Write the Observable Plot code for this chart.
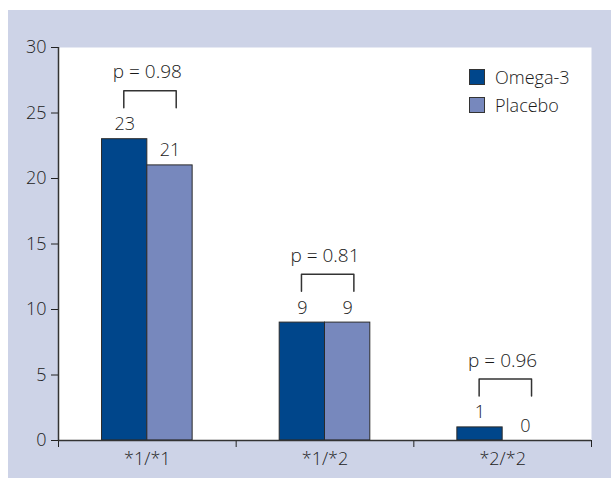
<!DOCTYPE html>
<html><head><meta charset="utf-8">
<script src="https://cdn.jsdelivr.net/npm/d3@7"></script>
<script src="https://cdn.jsdelivr.net/npm/@observablehq/plot@0.6"></script>
<style>
body{margin:0;background:#fff;font-family:"Open Sans",sans-serif;}
#wrap{position:relative;width:611px;height:482px;overflow:hidden;}
#bg{position:absolute;left:8px;top:10px;width:603px;height:468px;background:#cdd3e7;}
#chart{position:absolute;left:0;top:0;}
#chart svg text{font-weight:300;}
#legend{position:absolute;left:469px;top:63px;font-size:18px;color:#1a1a1a;font-weight:300;}
.item{display:flex;align-items:center;height:28px;}
.sw{width:14px;height:14px;border:1px solid #333;margin-right:10px;}
g[aria-label="p-values"] text{letter-spacing:0.8px;}
</style></head>
<body><div id="wrap"><div id="bg"></div><div id="chart"></div><div id="legend"></div></div>
<script>
const genotypes = ["*1/*1", "*1/*2", "*2/*2"];
const groups = ["Omega-3", "Placebo"];
const omega3 = [23, 9, 1];
const placebo = [21, 9, 0];
const pValues = ["p = 0.98", "p = 0.81", "p = 0.96"];
const yTicks = [0, 5, 10, 15, 20, 25, 30];
const colors = ["#00468b", "#7788bd"];

const W = 0.255; // bar width as a fraction of a genotype band
const series = [omega3, placebo];
const rows = [];
genotypes.forEach((g, i) => {
  groups.forEach((grp, k) => {
    const x1 = i + 0.5 - W + k * W;
    rows.push({genotype: g, gi: i, group: grp, k, value: series[k][i], x1, x2: x1 + W, xc: x1 + W / 2});
  });
});
const brackets = [];
const pLabels = [];
genotypes.forEach((g, i) => {
  const m = Math.max(omega3[i], placebo[i]);
  const cL = i + 0.5 - W / 2 - 0.005, cR = i + 0.5 + W / 2 + 0.035;
  const top = m + 3.7, bot = m + 2.4;
  brackets.push({g, x: cL, y: bot}, {g, x: cL, y: top}, {g, x: cR, y: top}, {g, x: cR, y: bot});
  pLabels.push({g, x: i + 0.5, y: m + 5.1, text: pValues[i]});
});

const chart = Plot.plot({
  width: 611,
  height: 482,
  marginLeft: 58,
  marginRight: 20,
  marginTop: 47,
  marginBottom: 42,
  style: {background: "transparent", color: "#222", fontFamily: "'Open Sans', sans-serif", fontSize: "18px"},
  x: {domain: [0, genotypes.length]},
  y: {domain: [0, 30]},
  color: {domain: groups, range: colors},
  marks: [
    Plot.frame({fill: "white", stroke: null}),
    Plot.rectY(rows, {x1: "x1", x2: "x2", y1: 0, y2: "value", fill: "group", stroke: "#2a2a2a", strokeWidth: 1}),
    Plot.text(rows, {x: "xc", y: "value", text: d => String(d.value), lineAnchor: "bottom", dy: -9, fontSize: 18, fill: "#1a1a1a"}),
    Plot.line(brackets, {x: "x", y: "y", z: "g", stroke: "#333", strokeWidth: 1.5}),
    Plot.text(pLabels, {x: "x", y: "y", text: "text", fontSize: 19, fill: "#1a1a1a", ariaLabel: "p-values"}),
    Plot.axisY({ticks: yTicks, tickSize: 7, tickPadding: 5, label: null}),
    Plot.axisX({ticks: d3.range(genotypes.length + 1), tickFormat: () => "", tickSize: 7, label: null}),
    Plot.axisX({ticks: genotypes.map((_, i) => i + 0.5), tickSize: 0, tickPadding: 12, tickFormat: v => genotypes[Math.floor(v)], label: null}),
    Plot.ruleX([0], {stroke: "#333", strokeWidth: 1.5}),
    Plot.ruleY([0], {stroke: "#333", strokeWidth: 1.5})
  ]
});
document.getElementById("chart").appendChild(chart);

const legend = document.getElementById("legend");
groups.forEach((g, k) => {
  const item = document.createElement("div");
  item.className = "item";
  const sw = document.createElement("span");
  sw.className = "sw";
  sw.style.background = colors[k];
  const t = document.createElement("span");
  t.textContent = g;
  item.append(sw, t);
  legend.appendChild(item);
});
</script>
</body></html>
